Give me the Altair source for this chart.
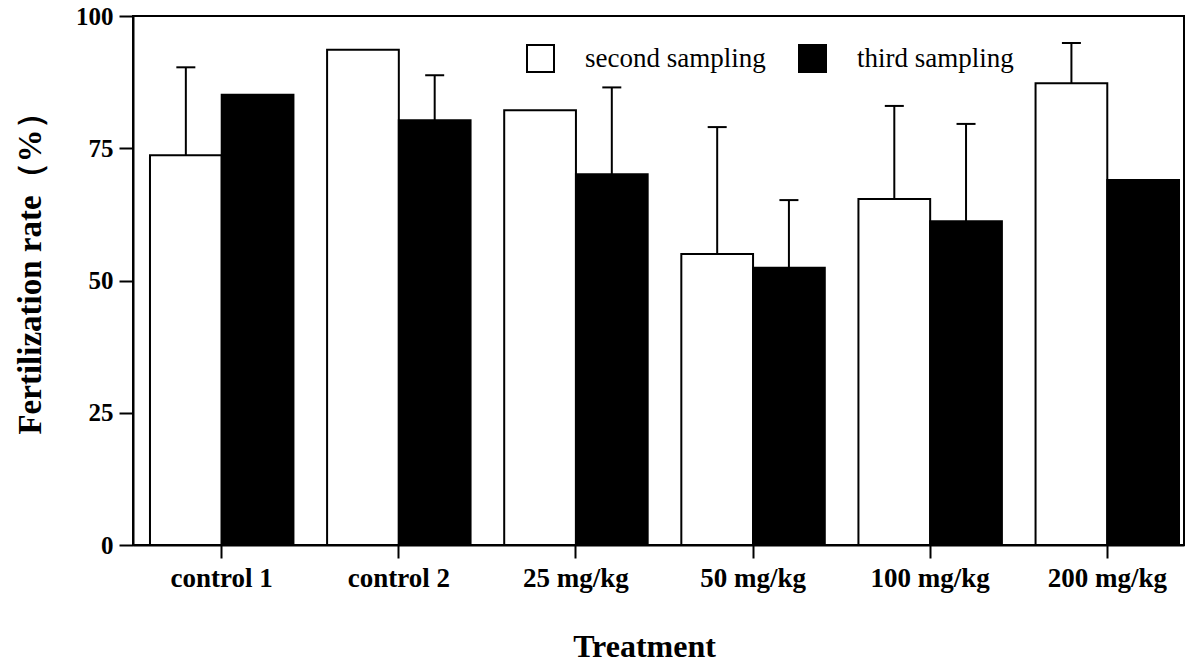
import altair as alt
import pandas as pd

# Treatment groups along the x axis
treatments = ["control 1", "control 2", "25 mg/kg", "50 mg/kg", "100 mg/kg", "200 mg/kg"]
series = ["second sampling", "third sampling"]

# Mean fertilization rate (%) per sampling
second_mean = [73.7, 93.6, 82.2, 55.0, 65.4, 87.3]
third_mean = [85.1, 80.3, 70.1, 52.4, 61.2, 69.0]

# Upper error (SD) per sampling; None where no error bar is drawn
second_err = [16.6, None, None, 24.0, 17.6, 7.6]
third_err = [None, 8.5, 16.4, 12.8, 18.4, None]

rows = []
for i, t in enumerate(treatments):
    for s, means, errs in ((series[0], second_mean, second_err), (series[1], third_mean, third_err)):
        m = means[i]
        e = errs[i]
        rows.append({
            "treatment": t,
            "sampling": s,
            "rate": m,
            "upper": (m + e) if e is not None else None,
        })
df = pd.DataFrame(rows)

SERIF = "Liberation Serif"

x_enc = alt.X(
    "treatment:N",
    sort=treatments,
    scale=alt.Scale(paddingInner=0.19, paddingOuter=0.062, align=0.773),
    axis=alt.Axis(
        title="Treatment",
        labelAngle=0,
        labelFont=SERIF,
        labelFontWeight="bold",
        labelFontSize=27,
        labelColor="black",
        labelPadding=7,
        tickSize=13,
        tickWidth=2,
        tickColor="black",
        domainColor="black",
        domainWidth=2,
        titleFont=SERIF,
        titleFontWeight="bold",
        titleFontSize=32,
        titleColor="black",
        titleX=511,
        titleY=111,
        titleAlign="center",
        titleBaseline="alphabetic",
    ),
)
xoff_enc = alt.XOffset("sampling:N", sort=series, scale=alt.Scale(paddingInner=0, paddingOuter=0))

y_scale = alt.Scale(domain=[0, 100], nice=False)

bars = alt.Chart(df).mark_bar(stroke="black", strokeWidth=2).encode(
    x=x_enc,
    xOffset=xoff_enc,
    y=alt.Y(
        "rate:Q",
        scale=y_scale,
        axis=alt.Axis(
            title="Fertilization rate（%）",
            values=[0, 25, 50, 75, 100],
            grid=False,
            labelFont=SERIF,
            labelFontWeight="bold",
            labelFontSize=25,
            labelColor="black",
            labelPadding=6,
            tickSize=14,
            tickWidth=2,
            tickColor="black",
            domainColor="black",
            domainWidth=2,
            titleFont=SERIF,
            titleFontWeight="bold",
            titleFontSize=33,
            titleColor="black",
            titleAngle=270,
            titleX=-103,
            titleY=249,
            titleAlign="center",
            titleBaseline="middle",
        ),
    ),
    fill=alt.Fill(
        "sampling:N",
        sort=series,
        scale=alt.Scale(domain=series, range=["white", "black"]),
        legend=alt.Legend(
            title=None,
            orient="none",
            legendX=393,
            legendY=28,
            direction="horizontal",
            symbolType="square",
            symbolSize=729,
            symbolStrokeColor="black",
            symbolStrokeWidth=2,
            symbolOpacity=1,
            labelFont=SERIF,
            labelFontSize=27,
            labelColor="black",
            labelLimit=0,
            labelOffset=30,
            columnPadding=29,
            padding=0,
        ),
    ),
)

errs = alt.Chart(df).transform_filter("isValid(datum.upper)")

stems = errs.mark_rule(color="black", strokeWidth=2).encode(
    x=x_enc,
    xOffset=xoff_enc,
    y=alt.Y("rate:Q", scale=y_scale),
    y2="upper:Q",
)

caps = errs.mark_tick(color="black", size=19, thickness=2, opacity=1).encode(
    x=x_enc,
    xOffset=xoff_enc,
    y=alt.Y("upper:Q", scale=y_scale),
)

chart = (
    alt.layer(bars, stems, caps)
    .properties(
        width=1051,
        height=529,
        autosize=alt.AutoSizeParams(type="none"),
        padding={"left": 133, "top": 16, "right": 12, "bottom": 118},
        background="white",
    )
    .configure_view(stroke="black", strokeWidth=2)
)

chart.save("out.html", embed_options={"renderer": "svg", "actions": False})
